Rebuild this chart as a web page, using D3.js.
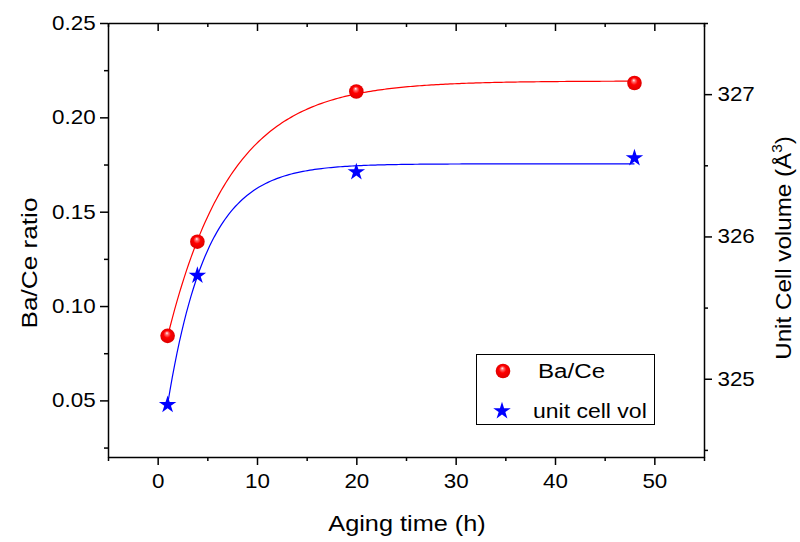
<!DOCTYPE html>
<html>
<head>
<meta charset="utf-8">
<script src="https://cdn.jsdelivr.net/npm/d3@7"></script>
<style>
  html, body { margin: 0; padding: 0; background: #fff; }
  svg { display: block; font-family: "Liberation Sans", Arial, sans-serif; }
</style>
</head>
<body>
<svg id="chart" width="800" height="542"></svg>
<script>
// Aging time (h) of each sample
const agingTime = [1, 4, 20, 48];
// Ba/Ce ratio (left axis)
const baCeRatio = [0.0842, 0.1341, 0.2137, 0.2182];
// Unit cell volume in cubic angstrom (right axis)
const cellVolume = [324.817, 325.725, 326.453, 326.551];

const xMajorTicks = [0, 10, 20, 30, 40, 50];
const xMinorTicks = [-5, 5, 15, 25, 35, 45, 55];
const yLeftMajorTicks = [0.05, 0.10, 0.15, 0.20, 0.25];
const yLeftMinorTicks = [0.025, 0.075, 0.125, 0.175, 0.225];
const yRightMajorTicks = [325, 326, 327];
const yRightMinorTicks = [324.5, 325.5, 326.5, 327.5];

const svg = d3.select("#chart");
const frame = { left: 108, right: 704, top: 23, bottom: 457 };
const WIDE = 1.15;      // horizontal glyph widening for titles and legend
const WIDE_TICK = 1.12; // horizontal glyph widening for tick labels

const x = d3.scaleLinear().domain([-5, 55]).range([frame.left, frame.right]);
const yL = d3.scaleLinear().domain([0.02, 0.25]).range([frame.bottom, frame.top]);
const yR = d3.scaleLinear().domain([324.45, 327.5]).range([frame.bottom, frame.top]);

// Exponential rise-to-plateau fit y = A - B*exp(-x/t), least squares over t
function fitExpRise(xs, ys) {
  let best = null;
  for (let t = 0.3; t <= 40; t += 0.005) {
    const e = xs.map(v => Math.exp(-v / t));
    const n = xs.length;
    const se = d3.sum(e), sy = d3.sum(ys);
    const see = d3.sum(e, v => v * v);
    const sey = d3.sum(e.map((v, i) => v * ys[i]));
    const det = n * see - se * se;
    if (Math.abs(det) < 1e-12) continue;
    const a = (sy * see - se * sey) / det;
    const c = (n * sey - se * sy) / det; // coefficient of exp term
    const sse = d3.sum(ys.map((v, i) => (v - a - c * e[i]) ** 2));
    if (!best || sse < best.sse) best = { a, c, t, sse };
  }
  return v => best.a + best.c * Math.exp(-v / best.t);
}

const fitRed = fitExpRise(agingTime, baCeRatio);
const fitBlue = fitExpRise(agingTime, cellVolume);
const fitX = d3.range(0, 201).map(i => agingTime[0] + (agingTime[agingTime.length - 1] - agingTime[0]) * i / 200);

// gradient for the shaded ball markers
const defs = svg.append("defs");
const grad = defs.append("radialGradient")
  .attr("id", "ball").attr("cx", "50%").attr("cy", "50%").attr("r", "55%")
  .attr("fx", "45%").attr("fy", "30%");
grad.append("stop").attr("offset", "0%").attr("stop-color", "#ffffff");
grad.append("stop").attr("offset", "18%").attr("stop-color", "#ff7070");
grad.append("stop").attr("offset", "45%").attr("stop-color", "#ff0000");
grad.append("stop").attr("offset", "100%").attr("stop-color", "#d80000");

// fitted curves
svg.append("path")
  .attr("d", d3.line().x(d => x(d)).y(d => yL(fitRed(d)))(fitX))
  .attr("fill", "none").attr("stroke", "#ff0000").attr("stroke-width", 1.2);
svg.append("path")
  .attr("d", d3.line().x(d => x(d)).y(d => yR(fitBlue(d)))(fitX))
  .attr("fill", "none").attr("stroke", "#0000ff").attr("stroke-width", 1.2);

// markers
svg.append("g").selectAll("circle").data(agingTime).join("circle")
  .attr("cx", d => x(d)).attr("cy", (d, i) => yL(baCeRatio[i]))
  .attr("r", 7.3).attr("fill", "url(#ball)");
const star = d3.symbol().type(d3.symbolStar).size(95);
svg.append("g").selectAll("path").data(agingTime).join("path")
  .attr("d", star)
  .attr("transform", (d, i) => `translate(${x(d)},${yR(cellVolume[i])})`)
  .attr("fill", "#0000ff");

// axes
function styleAxis(g) {
  g.selectAll("path, line").attr("stroke", "#000").attr("stroke-width", 1.5);
  g.selectAll("text").attr("fill", "#000").attr("font-size", 20)
    .attr("transform", `scale(${WIDE_TICK},1)`)
    .attr("font-family", "Liberation Sans, Arial, sans-serif");
}
const axBottom = svg.append("g").attr("transform", `translate(0,${frame.bottom})`)
  .call(d3.axisBottom(x).tickValues(xMajorTicks).tickSize(8).tickSizeOuter(0).tickPadding(9));
svg.append("g").attr("transform", `translate(0,${frame.bottom})`)
  .call(d3.axisBottom(x).tickValues(xMinorTicks).tickSize(4).tickFormat("").tickSizeOuter(0))
  .call(g => g.select(".domain").remove()).call(styleAxis);
axBottom.call(styleAxis);

const axTop = svg.append("g").attr("transform", `translate(0,${frame.top})`)
  .call(d3.axisBottom(x).tickValues(xMajorTicks).tickSize(8).tickFormat("").tickSizeOuter(0));
svg.append("g").attr("transform", `translate(0,${frame.top})`)
  .call(d3.axisBottom(x).tickValues(xMinorTicks).tickSize(4).tickFormat("").tickSizeOuter(0))
  .call(g => g.select(".domain").remove()).call(styleAxis);
axTop.call(styleAxis);

const axLeft = svg.append("g").attr("transform", `translate(${frame.left},0)`)
  .call(d3.axisLeft(yL).tickValues(yLeftMajorTicks).tickSize(8).tickSizeOuter(0)
    .tickPadding(3).tickFormat(d3.format(".2f")));
svg.append("g").attr("transform", `translate(${frame.left},0)`)
  .call(d3.axisLeft(yL).tickValues(yLeftMinorTicks).tickSize(4).tickFormat("").tickSizeOuter(0))
  .call(g => g.select(".domain").remove()).call(styleAxis);
axLeft.call(styleAxis);

const axRight = svg.append("g").attr("transform", `translate(${frame.right},0)`)
  .call(d3.axisRight(yR).tickValues(yRightMajorTicks).tickSize(8).tickSizeOuter(0)
    .tickPadding(4).tickFormat(d3.format("d")));
svg.append("g").attr("transform", `translate(${frame.right},0)`)
  .call(d3.axisRight(yR).tickValues(yRightMinorTicks).tickSize(4).tickFormat("").tickSizeOuter(0))
  .call(g => g.select(".domain").remove()).call(styleAxis);
axRight.call(styleAxis);

// axis titles
svg.append("text")
  .attr("transform", `translate(${(frame.left + frame.right) / 2 + 1},531) scale(${WIDE},1)`)
  .attr("text-anchor", "middle").attr("font-size", 22).text("Aging time (h)");
svg.append("text").attr("transform", `translate(37,263) rotate(-90) scale(1.19,1)`)
  .attr("text-anchor", "middle").attr("font-size", 22).text("Ba/Ce ratio");
const rt = svg.append("text").attr("transform", `translate(791,248) rotate(-90) scale(1.1,1)`)
  .attr("text-anchor", "middle").attr("font-size", 22);
rt.append("tspan").text("Unit Cell volume (Å");
rt.append("tspan").attr("dy", -9).attr("font-size", 14).text("3");
rt.append("tspan").attr("dy", 9).text(")");

// legend
const lg = svg.append("g");
lg.append("rect").attr("x", 476.5).attr("y", 354.5).attr("width", 178).attr("height", 70)
  .attr("fill", "#fff").attr("stroke", "#000").attr("stroke-width", 1);
lg.append("circle").attr("cx", 503).attr("cy", 371).attr("r", 7.3).attr("fill", "url(#ball)");
lg.append("text").attr("transform", `translate(538,378) scale(${WIDE},1)`)
  .attr("font-size", 21).text("Ba/Ce");
lg.append("path").attr("d", star).attr("transform", "translate(502,411)").attr("fill", "#0000ff");
lg.append("text").attr("transform", `translate(533,418) scale(${WIDE},1)`)
  .attr("font-size", 20).text("unit cell vol");
</script>
</body>
</html>
